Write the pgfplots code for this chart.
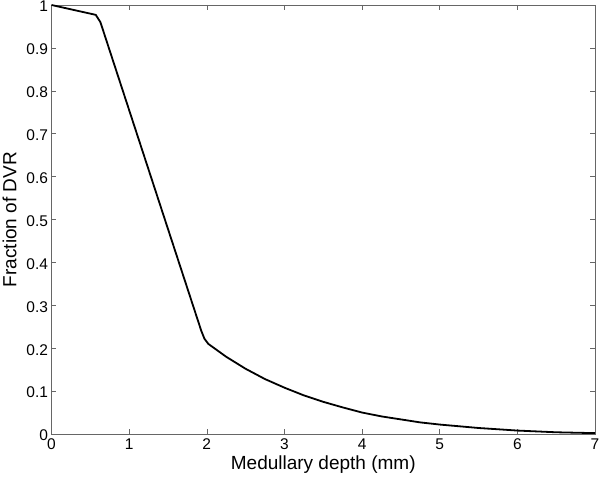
\documentclass[border=0pt]{standalone}
\usepackage{fontspec}
\setmainfont{Liberation Sans}
\usepackage{pgfplots}
\pgfplotsset{compat=1.18}
\begin{document}
\begin{tikzpicture}[x=1pt,y=1pt]
\path[use as bounding box] (-51.5,-44) rectangle (548.5,434);
\begin{axis}[
  at={(0,0)}, anchor=south west,
  scale only axis, width=543.5pt, height=429pt,
  xmin=0, xmax=7, ymin=0, ymax=1,
  xtick={0,1,...,7},
  ytick={0,0.1,...,1},
  yticklabels={0,0.1,0.2,0.3,0.4,0.5,0.6,0.7,0.8,0.9,1},
  tick align=inside,
  major tick length=5pt,
  axis line style={draw=gray!80!black, line width=0.6pt},
  every tick/.style={draw=gray!80!black, line width=0.5pt},
  tick label style={font=\fontsize{15.5}{17}\selectfont},
  /pgf/number format/assume math mode=true,
  xlabel={Medullary depth (mm)},
  ylabel={Fraction of DVR},
  label style={font=\fontsize{19}{21}\selectfont},
  xlabel style={yshift=1pt},
  ylabel style={yshift=3pt},
  xticklabel style={yshift=-1pt},
  yticklabel style={yshift=-1.5pt},
]
\addplot[black, line width=1.8pt, line join=round] coordinates {
(0,1) (0.57,0.977) (0.63,0.96) (1.0,0.755) (1.5,0.478) (1.93,0.24) (1.97,0.222) (2.02,0.21)
(2.25,0.18) (2.5,0.152) (2.75,0.128) (3,0.108) (3.25,0.09) (3.5,0.075) (3.75,0.062) (4,0.05)
(4.25,0.041) (4.5,0.034) (4.75,0.027) (5,0.022) (5.25,0.018) (5.5,0.014) (5.75,0.011) (6,0.008)
(6.25,0.006) (6.5,0.004) (6.75,0.003) (7,0.002)
};
\end{axis}
\end{tikzpicture}
\end{document}
